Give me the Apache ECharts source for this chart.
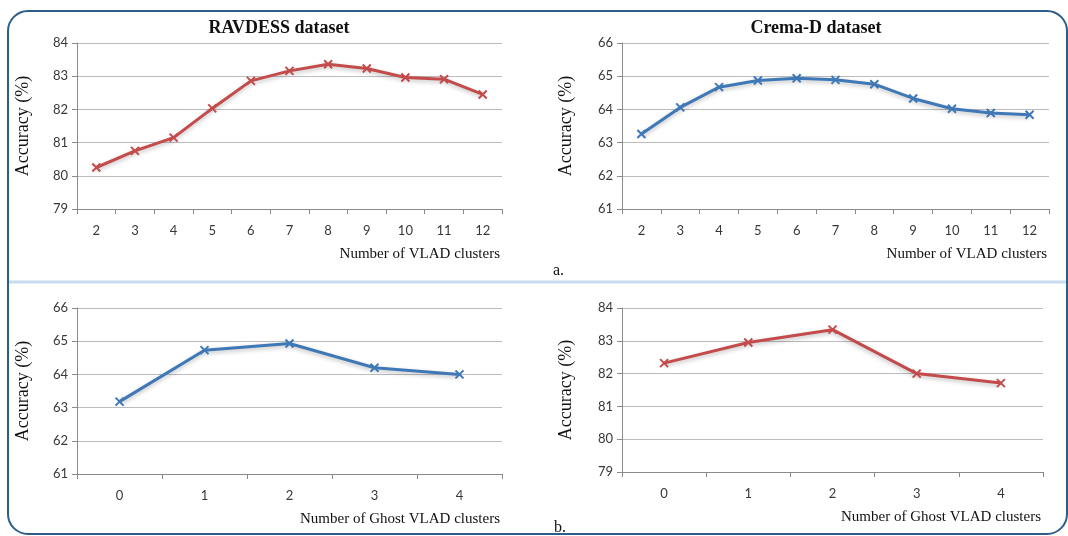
<!DOCTYPE html>
<html>
<head>
<meta charset="utf-8">
<script src="https://cdn.jsdelivr.net/npm/echarts@6/dist/echarts.min.js"></script>
<style>html,body{margin:0;padding:0;background:#fff;}#c{width:1068px;height:536px;}</style>
</head>
<body>
<div id="c"></div>
<script>
// ---- data ----
const vladClusters = ['2','3','4','5','6','7','8','9','10','11','12'];
const ghostClusters = ['0','1','2','3','4'];
const ravdessVlad = [80.25, 80.75, 81.15, 82.03, 82.86, 83.16, 83.36, 83.23, 82.96, 82.91, 82.45];
const cremaVlad = [63.26, 64.06, 64.67, 64.87, 64.94, 64.89, 64.76, 64.33, 64.02, 63.89, 63.84];
const ravdessGhost = [63.18, 64.73, 64.93, 64.20, 64.00];
const cremaGhost = [82.32, 82.95, 83.34, 82.00, 81.71];
const titles = ['RAVDESS dataset', 'Crema-D dataset'];
const yName = 'Accuracy (%)';
const xNameVlad = 'Number of VLAD clusters';
const xNameGhost = 'Number of Ghost VLAD clusters';

const RED = '#c44b4b', BLUE = '#3f78b6';
const serif = '"Liberation Serif", "DejaVu Serif", serif';
const sans = 'Lato, "Open Sans", sans-serif';

const grids = [
  {left: 77, top: 43, width: 425, height: 166},
  {left: 622, top: 43, width: 427, height: 166},
  {left: 77, top: 308, width: 425, height: 166},
  {left: 622, top: 308, width: 421, height: 164}
];

function xAxis(i, cats, name) {
  return {
    type: 'category', gridIndex: i, data: cats, boundaryGap: true,
    name: name, nameLocation: 'end', nameGap: -2,
    nameTextStyle: {fontFamily: serif, fontSize: 15, color: '#111', align: 'right', verticalAlign: 'top', padding: [38, 0, 0, 0]},
    axisLine: {lineStyle: {color: '#8a8a8a', width: 1}},
    axisTick: {show: true, length: 5, lineStyle: {color: '#8a8a8a'}},
    axisLabel: {fontFamily: sans, fontSize: 13, color: '#383838', margin: 15},
    splitLine: {show: false}
  };
}
function yAxis(i, min, max, gap) {
  return {
    type: 'value', gridIndex: i, min: min, max: max, interval: 1,
    name: yName, nameLocation: 'middle', nameGap: gap, nameRotate: 90,
    nameTextStyle: {fontFamily: serif, fontSize: 18, color: '#111'},
    axisLine: {show: true, lineStyle: {color: '#8a8a8a', width: 1}},
    axisTick: {show: true, length: 5, lineStyle: {color: '#8a8a8a'}},
    axisLabel: {fontFamily: sans, fontSize: 13, color: '#383838', margin: 9},
    splitLine: {show: true, lineStyle: {color: '#bcbcbc', width: 1}}
  };
}
function series(i, data, color) {
  return {
    type: 'line', xAxisIndex: i, yAxisIndex: i, data: data,
    symbol: 'path://M0 0L10 10M10 0L0 10', symbolSize: 8,
    itemStyle: {color: color, borderColor: color, borderWidth: 2},
    lineStyle: {color: color, width: 3, shadowColor: 'rgba(0,0,0,0.25)', shadowBlur: 4, shadowOffsetY: 2},
    animation: false, silent: true
  };
}

const chart = echarts.init(document.getElementById('c'), null, {renderer: 'canvas'});
chart.setOption({
  backgroundColor: '#ffffff',
  animation: false,
  title: [
    {text: titles[0], left: 279, top: 19, textAlign: 'center', padding: 0,
     textStyle: {fontFamily: serif, fontSize: 18, fontWeight: 'bold', color: '#111'}},
    {text: titles[1], left: 816, top: 19, textAlign: 'center', padding: 0,
     textStyle: {fontFamily: serif, fontSize: 18, fontWeight: 'bold', color: '#111'}}
  ],
  grid: grids,
  xAxis: [xAxis(0, vladClusters, xNameVlad), xAxis(1, vladClusters, xNameVlad),
          xAxis(2, ghostClusters, xNameGhost), xAxis(3, ghostClusters, xNameGhost)],
  yAxis: [yAxis(0, 79, 84, 45), yAxis(1, 61, 66, 47), yAxis(2, 61, 66, 45), yAxis(3, 79, 84, 47)],
  series: [series(0, ravdessVlad, RED), series(1, cremaVlad, BLUE),
           series(2, ravdessGhost, BLUE), series(3, cremaGhost, RED)],
  graphic: [
    {type: 'rect', silent: true, z: -1,
     shape: {x: 8, y: 11, width: 1059, height: 523, r: 20},
     style: {fill: 'none', stroke: '#2d5d89', lineWidth: 2}},
    {type: 'line', silent: true, z: -1,
     shape: {x1: 9, y1: 282, x2: 1066, y2: 282},
     style: {stroke: '#c8dbee', lineWidth: 3}},
    {type: 'text', silent: true, left: 553, top: 263,
     style: {text: 'a.', font: '16px ' + serif, fill: '#111'}},
    {type: 'text', silent: true, left: 554, top: 520,
     style: {text: 'b.', font: '16px ' + serif, fill: '#111'}}
  ]
});
</script>
</body>
</html>
